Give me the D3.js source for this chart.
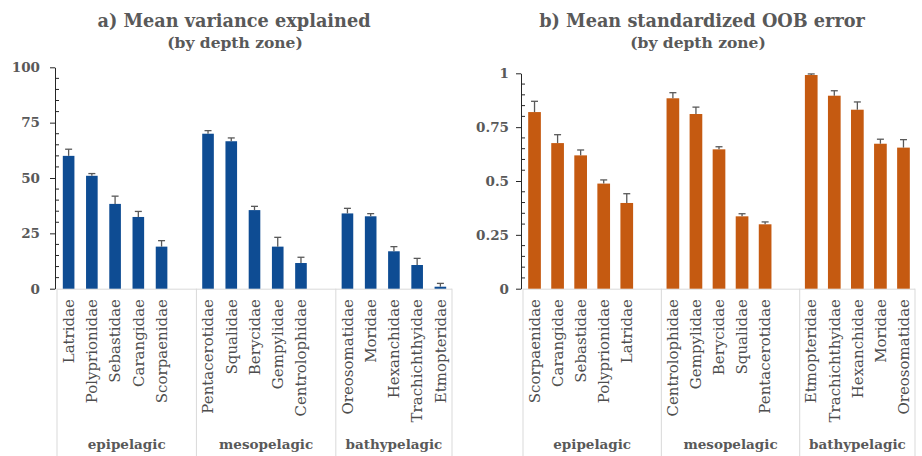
<!DOCTYPE html>
<html>
<head>
<meta charset="utf-8">
<script src="https://cdn.jsdelivr.net/npm/d3@7"></script>
<style>
  body { margin: 0; background: #fff; }
  svg text { font-family: "DejaVu Serif", "Liberation Serif", serif; }
</style>
</head>
<body>
<svg id="chart" width="922" height="456"></svg>
<script>
const zones = ["epipelagic", "mesopelagic", "bathypelagic"];

// a) mean variance explained
const varFamilies = [
  ["Latridae", "Polyprionidae", "Sebastidae", "Carangidae", "Scorpaenidae"],
  ["Pentacerotidae", "Squalidae", "Berycidae", "Gempylidae", "Centrolophidae"],
  ["Oreosomatidae", "Moridae", "Hexanchidae", "Trachichthyidae", "Etmopteridae"]
];
const varMean = [
  [60, 51, 38.3, 32.4, 19],
  [70, 66.6, 35.5, 19, 11.6],
  [34, 32.7, 16.9, 10.7, 0.9]
];
const varErr = [
  [3, 1, 3.5, 2.5, 2.7],
  [1.4, 1.5, 1.7, 4.2, 2.6],
  [2.3, 1.2, 2.1, 3, 1.5]
];
const varTicks = [0, 25, 50, 75, 100];

// b) mean standardized OOB error
const oobFamilies = [
  ["Scorpaenidae", "Carangidae", "Sebastidae", "Polyprionidae", "Latridae"],
  ["Centrolophidae", "Gempylidae", "Berycidae", "Squalidae", "Pentacerotidae"],
  ["Etmopteridae", "Trachichthyidae", "Hexanchidae", "Moridae", "Oreosomatidae"]
];
const oobMean = [
  [0.82, 0.676, 0.619, 0.488, 0.398],
  [0.884, 0.811, 0.647, 0.336, 0.299],
  [0.992, 0.896, 0.831, 0.673, 0.655]
];
const oobErr = [
  [0.05, 0.039, 0.025, 0.017, 0.043],
  [0.026, 0.032, 0.012, 0.012, 0.011],
  [0.005, 0.023, 0.036, 0.021, 0.037]
];
const oobTicks = [0, 0.25, 0.5, 0.75, 1];

const svg = d3.select("#chart");
const grey = "#595959";

function panel(opt) {
  const g = svg.append("g");

  // slots: 5 bars per zone, one empty slot between zones
  const rows = [];
  const domain = [];
  opt.families.forEach((fams, zi) => {
    fams.forEach((f, i) => {
      const key = zones[zi] + "|" + f;
      domain.push(key);
      rows.push({ key, zone: zi, name: f, v: opt.mean[zi][i], e: opt.err[zi][i] });
    });
    if (zi < zones.length - 1) domain.push("gap" + zi);
  });

  const x = d3.scaleBand().domain(domain).range(opt.xr)
    .paddingInner(opt.pad).paddingOuter(opt.pad / 2);
  const y = d3.scaleLinear().domain(opt.yd).range(opt.yr);
  const step = x.step();
  const y0 = y(0);

  // category frame
  const bounds = [opt.xr[0]];
  zones.forEach((z, zi) => {
    if (zi < zones.length - 1) bounds.push(x("gap" + zi) + x.bandwidth() + step * opt.pad / 2);
  });
  bounds.push(opt.xr[1]);

  g.append("line")
    .attr("x1", opt.xr[0]).attr("x2", opt.xr[1])
    .attr("y1", y0 + 0.5).attr("y2", y0 + 0.5)
    .attr("stroke", "#d9d9d9");
  g.selectAll(".sep").data(bounds).join("line")
    .attr("x1", d => d).attr("x2", d => d)
    .attr("y1", y0).attr("y2", 456)
    .attr("stroke", "#d9d9d9");

  // zone labels
  g.selectAll(".zone").data(zones).join("text")
    .attr("x", (d, i) => (bounds[i] + bounds[i + 1]) / 2)
    .attr("y", 449)
    .attr("text-anchor", "middle")
    .attr("font-size", 13.5).attr("font-weight", "bold")
    .attr("fill", grey)
    .text(d => d);

  // family labels
  g.selectAll(".fam").data(rows).join("text")
    .attr("transform", d => `translate(${x(d.key) + x.bandwidth() / 2},299) rotate(-90)`)
    .attr("text-anchor", "end")
    .attr("dy", "0.35em")
    .attr("font-size", 15)
    .attr("fill", "#4d4d4d")
    .text(d => d.name);

  // bars
  g.selectAll(".bar").data(rows).join("rect")
    .attr("x", d => x(d.key))
    .attr("width", x.bandwidth())
    .attr("y", d => y(d.v))
    .attr("height", d => y0 - y(d.v))
    .attr("fill", opt.color);

  // error bars (plus only)
  const eb = g.selectAll(".err").data(rows).join("g")
    .attr("stroke", grey).attr("stroke-width", 1.3);
  eb.append("line")
    .attr("x1", d => x(d.key) + x.bandwidth() / 2)
    .attr("x2", d => x(d.key) + x.bandwidth() / 2)
    .attr("y1", d => y(d.v))
    .attr("y2", d => y(d.v + d.e));
  eb.append("line")
    .attr("x1", d => x(d.key) + x.bandwidth() / 2 - 3.5)
    .attr("x2", d => x(d.key) + x.bandwidth() / 2 + 3.5)
    .attr("y1", d => y(d.v + d.e))
    .attr("y2", d => y(d.v + d.e));

  // y axis: major ticks outside, minor inside
  const ax = g.append("g").attr("transform", `translate(${opt.xr[0] - 2},0)`);
  ax.call(d3.axisLeft(y).tickValues(opt.ticks).tickSize(5).tickSizeOuter(0)
      .tickPadding(opt.tp).tickFormat(opt.fmt));
  ax.select(".domain").attr("stroke", "#262626");
  ax.selectAll(".tick line").attr("stroke", "#262626");
  ax.selectAll(".tick text")
    .attr("font-size", 13.5).attr("font-weight", "bold")
    .attr("fill", grey).attr("font-family", "DejaVu Serif, serif");
  const minor = d3.range(0, 21).map(i => opt.yd[0] + (opt.yd[1] - opt.yd[0]) * i / 20)
    .filter((d, i) => i % 5 !== 0);
  ax.append("g").selectAll("line").data(minor).join("line")
    .attr("x1", 0).attr("x2", 4)
    .attr("y1", d => y(d)).attr("y2", d => y(d))
    .attr("stroke", "#262626");

  // titles
  g.append("text")
    .attr("x", opt.tx).attr("y", 27)
    .attr("text-anchor", "middle")
    .attr("font-size", 17.7).attr("font-weight", "bold").attr("fill", grey)
    .text(opt.title);
  g.append("text")
    .attr("x", opt.sx).attr("y", 48)
    .attr("text-anchor", "middle")
    .attr("font-size", 15.5).attr("font-weight", "bold").attr("fill", grey)
    .text("(by depth zone)");
}

panel({
  families: varFamilies, mean: varMean, err: varErr,
  xr: [57, 452], yd: [0, 100], yr: [288.7, 67.3], pad: 0.5, tp: 10,
  ticks: varTicks, fmt: d3.format("d"),
  color: "#0e4c93", title: "a) Mean variance explained", tx: 234, sx: 235
});

panel({
  families: oobFamilies, mean: oobMean, err: oobErr,
  xr: [523, 915], yd: [0, 1], yr: [288.7, 73.3], pad: 0.45, tp: 7,
  ticks: oobTicks, fmt: d => String(d),
  color: "#c55a11", title: "b) Mean standardized OOB error", tx: 702, sx: 698
});
</script>
</body>
</html>
